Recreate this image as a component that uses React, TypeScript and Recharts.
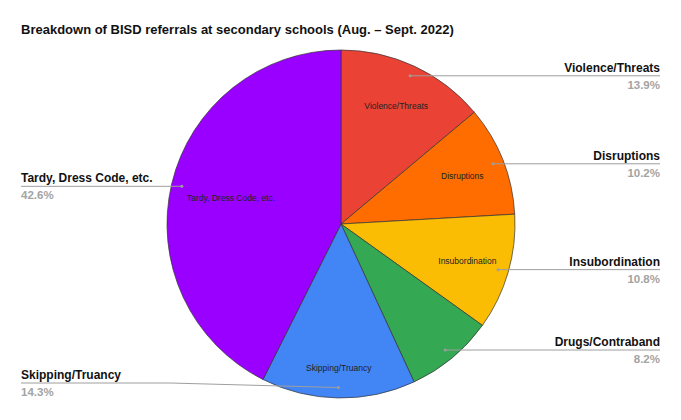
import { PieChart, Pie, Cell } from "recharts";

const categories = [
  "Violence/Threats",
  "Disruptions",
  "Insubordination",
  "Drugs/Contraband",
  "Skipping/Truancy",
  "Tardy, Dress Code, etc.",
];
const shares = [13.9, 10.2, 10.8, 8.2, 14.3, 42.6];
const colors = ["#ea4335", "#ff6d01", "#fbbc04", "#34a853", "#4285f4", "#9900ff"];

const data = categories.map((name, i) => ({ name, value: shares[i] }));

const FONT = "'Liberation Sans', Arial, sans-serif";
const RAD = Math.PI / 180;

function renderLabel(props: any) {
  const { cx, cy, midAngle, outerRadius, percent, name } = props;
  const cos = Math.cos(-midAngle * RAD);
  const sin = Math.sin(-midAngle * RAD);
  // text inside the slice (skipped when the slice is too thin),
  // pushed a bit further out for slices pointing down
  const down = Math.max(0, sin);
  const ir = outerRadius * ((percent > 0.3 ? 0.65 : 0.75) + 0.08 * down * down);
  const ix = cx + ir * cos;
  const iy = cy + ir * sin;
  // callout dot
  const dx = cx + outerRadius * 0.94 * cos;
  const dy = cy + outerRadius * 0.94 * sin;
  const right = dx >= cx;
  const edge = right ? 660 : 21;
  const ly = Math.min(dy, cy + outerRadius - 15);
  const bendX = right ? dx : Math.min(dx, 170);
  const pts =
    ly === dy
      ? `${dx},${dy} ${edge},${ly}`
      : `${dx},${dy} ${bendX},${ly} ${edge},${ly}`;
  return (
    <g>
      {percent >= 0.09 && (
        <text
          x={ix}
          y={iy}
          textAnchor="middle"
          dominantBaseline="central"
          fontSize={8.5}
          fontFamily={FONT}
          fill="#222"
        >
          {name}
        </text>
      )}
      <polyline points={pts} fill="none" stroke="#9e9e9e" strokeWidth={1} />
      <circle cx={dx} cy={dy} r={1.5} fill="#9e9e9e" />
      <text
        x={edge}
        y={ly - 4}
        textAnchor={right ? "end" : "start"}
        fontSize={12}
        fontWeight="bold"
        fontFamily={FONT}
        fill="#111"
      >
        {name}
      </text>
      <text
        x={edge}
        y={ly + 13}
        textAnchor={right ? "end" : "start"}
        fontSize={11.5}
        fontWeight="bold"
        fontFamily={FONT}
        fill="#a3a3a3"
      >
        {(percent * 100).toFixed(1)}%
      </text>
    </g>
  );
}

export default function App() {
  return (
    <div style={{ position: "relative", width: 681, height: 420, margin: -8, background: "#fff" }}>
      <div
        style={{
          position: "absolute",
          left: 21,
          top: 22,
          fontFamily: FONT,
          fontWeight: "bold",
          fontSize: 13,
          color: "#111",
          whiteSpace: "nowrap",
        }}
      >
        Breakdown of BISD referrals at secondary schools (Aug. – Sept. 2022)
      </div>
      <PieChart width={681} height={420} margin={{ top: 0, right: 0, bottom: 0, left: 0 }}>
        <Pie
          data={data}
          dataKey="value"
          nameKey="name"
          cx={341}
          cy={224}
          outerRadius={174}
          startAngle={90}
          endAngle={-270}
          stroke="#333"
          strokeWidth={0.7}
          label={renderLabel}
          labelLine={false}
          isAnimationActive={false}
        >
          {data.map((d, i) => (
            <Cell key={d.name} fill={colors[i]} />
          ))}
        </Pie>
      </PieChart>
    </div>
  );
}
